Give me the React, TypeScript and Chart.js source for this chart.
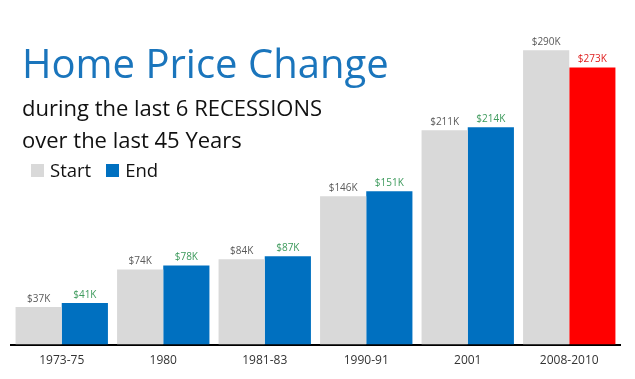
import React, { useEffect, useRef } from "react";
import { Chart, registerables } from "chart.js";

Chart.register(...registerables);

const categories = ["1973-75", "1980", "1981-83", "1990-91", "2001", "2008-2010"];
const startValues = [37, 74, 84, 146, 211, 290];
const endValues = [41, 78, 87, 151, 214, 273];
const startLabels = ["$37K", "$74K", "$84K", "$146K", "$211K", "$290K"];
const endLabels = ["$41K", "$78K", "$87K", "$151K", "$214K", "$273K"];
const endColors = ["#0070c0", "#0070c0", "#0070c0", "#0070c0", "#0070c0", "#ff0000"];
const endLabelColors = ["#3d9a5c", "#3d9a5c", "#3d9a5c", "#3d9a5c", "#3d9a5c", "#e02020"];

const FONT = "'Open Sans', 'Noto Sans', sans-serif";

const valueLabels = {
  id: "valueLabels",
  afterDatasetsDraw(chart: any) {
    const ctx = chart.ctx;
    ctx.save();
    ctx.font = `10px ${FONT}`;
    ctx.textAlign = "center";
    ctx.textBaseline = "bottom";
    chart.data.datasets.forEach((ds: any, di: number) => {
      const meta = chart.getDatasetMeta(di);
      meta.data.forEach((el: any, i: number) => {
        const text = di === 0 ? startLabels[i] : endLabels[i];
        ctx.fillStyle = di === 0 ? "#5a5a5a" : endLabelColors[i];
        ctx.fillText(text, el.x, el.y - 3);
      });
    });
    ctx.restore();
  },
};

export default function App() {
  const ref = useRef<HTMLCanvasElement>(null);
  useEffect(() => {
    if (!ref.current) return;
    const chart = new Chart(ref.current, {
      type: "bar",
      data: {
        labels: categories,
        datasets: [
          {
            label: "Start",
            data: startValues,
            backgroundColor: "#d9d9d9",
            categoryPercentage: 0.91,
            barPercentage: 1.0,
          },
          {
            label: "End",
            data: endValues,
            backgroundColor: endColors,
            categoryPercentage: 0.91,
            barPercentage: 1.0,
          },
        ],
      },
      options: {
        responsive: false,
        animation: false,
        layout: { padding: { top: 40, left: 11, right: 15, bottom: 2 } },
        plugins: {
          legend: { display: false },
          tooltip: { enabled: false },
          title: { display: false },
        },
        scales: {
          x: {
            grid: { display: false, drawTicks: false },
            border: { display: true, color: "#000000", width: 2 },
            ticks: { color: "#333333", font: { family: FONT, size: 12 }, padding: 9 },
          },
          y: {
            display: false,
            min: 0,
            max: 300,
          },
        },
      },
      plugins: [valueLabels],
    });
    return () => chart.destroy();
  }, []);

  return (
    <div style={{ position: "absolute", left: 0, top: 0, width: 635, height: 379, background: "#fff", overflow: "hidden" }}>
      <canvas ref={ref} width={635} height={379} style={{ position: "absolute", left: 0, top: 0 }} />
      <div style={{ position: "absolute", left: 22, top: 43, fontFamily: FONT, fontSize: 40, lineHeight: 1, color: "#1a75bc", whiteSpace: "nowrap" }}>
        Home Price Change
      </div>
      <div style={{ position: "absolute", left: 22, top: 96, fontFamily: FONT, fontSize: 22, lineHeight: 1, color: "#111", whiteSpace: "nowrap" }}>
        during the last 6 RECESSIONS
      </div>
      <div style={{ position: "absolute", left: 22, top: 128, fontFamily: FONT, fontSize: 22, lineHeight: 1, color: "#111", whiteSpace: "nowrap" }}>
        over the last 45 Years
      </div>
      <div style={{ position: "absolute", left: 31, top: 161, fontFamily: FONT, fontSize: 18.5, lineHeight: 1, color: "#111", whiteSpace: "nowrap", display: "flex", alignItems: "center" }}>
        <span style={{ display: "inline-block", width: 13, height: 13, background: "#d9d9d9", marginRight: 6 }} />
        <span>Start</span>
        <span style={{ display: "inline-block", width: 13, height: 13, background: "#0070c0", marginLeft: 15, marginRight: 6 }} />
        <span>End</span>
      </div>
    </div>
  );
}
